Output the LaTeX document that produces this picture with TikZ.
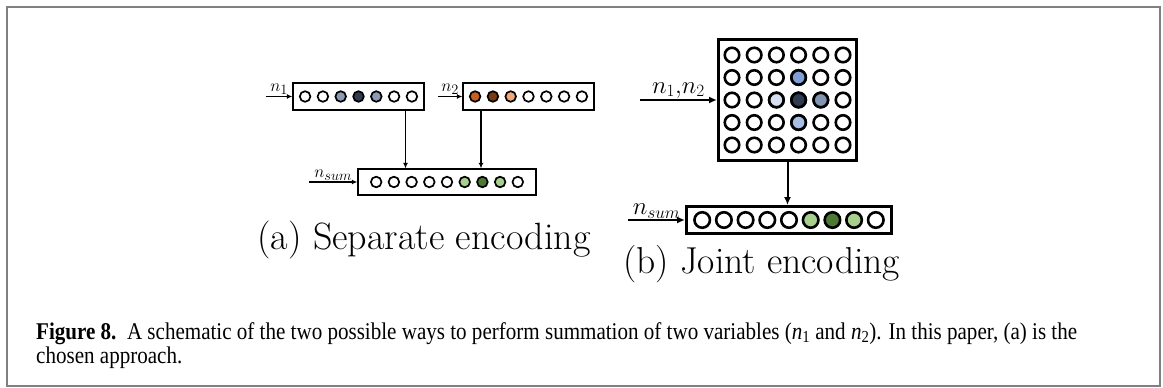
\documentclass[tikz,border=0pt]{standalone}
\usepackage{fontspec}
\newfontfamily\capfont{Liberation Serif}
\usetikzlibrary{positioning,calc,arrows.meta}

% cell colours
\definecolor{bluemid}{HTML}{8A9BB5}
\definecolor{navy}{HTML}{2E3B50}
\definecolor{rust}{HTML}{C8601C}
\definecolor{umber}{HTML}{7A3A12}
\definecolor{peach}{HTML}{F2A878}
\definecolor{greenlt}{HTML}{A8D08D}
\definecolor{greendk}{HTML}{4C7A34}
\definecolor{bluesoft}{HTML}{7F9FD6}
\definecolor{bluepale}{HTML}{D6E0F2}
\definecolor{bluelt}{HTML}{A9BEE3}
\definecolor{slateblue}{HTML}{8296B2}

% caption lines, squeezed to the column width below
\newcommand\capvar[1]{{\itshape n}\textsubscript{#1}}
\newcommand\capone{\textbf{Figure 8.}\ \ A schematic of the two possible ways to perform summation of two variables (\capvar{1} and \capvar{2}). In this paper, (a) is the}
\newcommand\captwo{chosen approach.}
\newsavebox\caplinebox
\newlength\caplinewd

\begin{document}
\sbox\caplinebox{\capfont\fontsize{24}{24}\selectfont\capone}%
\setlength\caplinewd{\wd\caplinebox}%
\pgfmathsetmacro\capsq{1041/\caplinewd}%
\begin{tikzpicture}[x=1pt,y=-1pt,
    cellA/.style={circle,draw,line width=1.7pt,minimum size=10.6pt,inner sep=0pt},
    cellB/.style={circle,draw,line width=2.6pt,minimum size=14.5pt,inner sep=0pt},
    boxA/.style={draw,line width=1.3pt,inner sep=0pt},
    boxB/.style={draw,line width=3pt,inner sep=0pt},
    feedA/.style={line width=1.3pt,-{Latex[length=5.5pt,width=5pt]}},
    feedB/.style={line width=2pt,-{Latex[length=8pt,width=7pt]}},
    labA/.style={font=\fontsize{19}{19}\selectfont,inner sep=1pt},
    labB/.style={font=\fontsize{25}{25}\selectfont,inner sep=1pt},
    subcap/.style={font=\fontsize{38}{44}\selectfont,inner sep=0pt,anchor=base west},
    captext/.style={font=\capfont\fontsize{24}{24}\selectfont,inner sep=0pt,anchor=base west}]
    \useasboundingbox (0,0) rectangle (1163,388);
    \draw[gray, line width=1.3pt] (7,7) rectangle (1160,386);
    \draw[gray, line width=1.5pt] (1160.5,7) -- (1160.5,386.5) -- (7,386.5);

    % (a) separate encoding
    \node[boxA, minimum width=131pt, minimum height=27pt] (boxone) at (358.5,96.5) {};
    \node[boxA, minimum width=131pt, minimum height=27pt] (boxtwo) at (528.5,96.5) {};
    \node[boxA, minimum width=178pt, minimum height=26pt] (boxsum) at (447,182) {};
    \foreach \c [count=\i] in {white,white,bluemid,navy,bluemid,white,white}
        \node[cellA, fill=\c] (one\i) at ($(boxone.center)+(\i*17.8-71.2,0)$) {};
    \foreach \c [count=\i] in {rust,umber,peach,white,white,white,white}
        \node[cellA, fill=\c] (two\i) at ($(boxtwo.center)+(\i*17.8-71.2,0)$) {};
    \foreach \c [count=\i] in {white,white,white,white,white,greenlt,greendk,greenlt,white}
        \node[cellA, fill=\c] (sum\i) at ($(boxsum.center)+(\i*17.7-88.5,0)$) {};

    \coordinate (inone) at (266,96.5);
    \coordinate (intwo) at (438,96.5);
    \coordinate (insum) at (309,182);
    \draw[feedA] (inone) -- node[labA, above] {$n_1$} (boxone.west);
    \draw[feedA] (intwo) -- node[labA, above] {$n_2$} (boxtwo.west);
    \draw[feedA] (insum) -- node[labA, above] {$n_{sum}$} (boxsum.west);
    \draw[feedA] ([xshift=47pt]boxone.south) -- ([xshift=47pt]boxone.south |- boxsum.north);
    \draw[feedA] ([xshift=-47.5pt]boxtwo.south) -- ([xshift=-47.5pt]boxtwo.south |- boxsum.north);
    \node[subcap] (capa) at (257,249) {(a) Separate encoding};

    % (b) joint encoding
    \node[boxB, minimum width=138pt, minimum height=121pt] (grid) at (787.5,100) {};
    \node[boxB, minimum width=205pt, minimum height=27pt] (jsum) at (789,220) {};
    \foreach \r in {1,...,5}
        \foreach \k in {1,...,6}
            \node[cellB] (g\r\k) at ($(grid.center)+(\k*22.2-77.7,\r*22.5-67.5)$) {};
    \fill[bluesoft] (g24) circle (7.25);
    \fill[bluepale] (g33) circle (7.25);
    \fill[navy] (g34) circle (7.25);
    \fill[slateblue] (g35) circle (7.25);
    \fill[bluelt] (g44) circle (7.25);
    \foreach \r/\k in {2/4,3/3,3/4,3/5,4/4}
        \draw[line width=2.6pt] (g\r\k) circle (7.25);
    \foreach \c [count=\i] in {white,white,white,white,white,greenlt,greendk,greenlt,white}
        \node[cellB, minimum size=15.5pt, fill=\c] (js\i) at ($(jsum.center)+(\i*21.7-108.5,0)$) {};

    \coordinate (ingrid) at (640,100);
    \coordinate (injsum) at (628,220);
    \draw[feedB] (ingrid) -- node[labB, above] {$n_1{,}n_2$} (grid.west);
    \draw[feedB] (injsum) -- node[labB, above] {$n_{sum}$} (jsum.west);
    \draw[feedB] (grid.south) -- (grid.south |- jsum.north);
    \node[subcap, font=\fontsize{37.5}{44}\selectfont] (capb) at (623,273) {(b) Joint encoding};

    % figure caption
    \node[captext] (capl1) at (36,339) {\scalebox{\capsq}[1]{\capone}};
    \node[captext] (capl2) at (36,363) {\scalebox{\capsq}[1]{\captwo}};
\end{tikzpicture}
\end{document}
